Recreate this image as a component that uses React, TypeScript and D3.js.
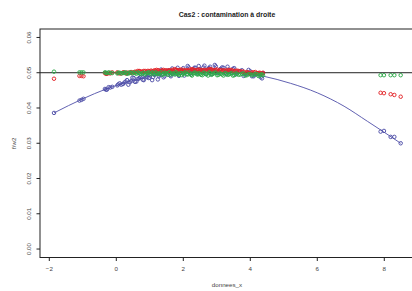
import React, { useEffect, useRef } from 'react';
import * as d3 from 'd3';

// donnees_x : 1 point a gauche, petit groupe vers -1, nuage central, contamination a droite
const donneesX = [
  -1.86, -1.1, -1.04, -0.98,
  -0.34, -0.28, -0.18, 0.03, 0.1, 0.2, 0.28, 0.36, 0.44, 0.52, 0.6, 0.68, 0.75, 0.82, 0.9, 0.97,
  1.04, 1.1, 1.17, 1.24, 1.3, 1.37, 1.44, 1.5, 1.57, 1.63, 1.7, 1.77, 1.83, 1.9, 1.96,
  2.03, 2.1, 2.16, 2.23, 2.3, 2.36, 2.43, 2.5, 2.57, 2.63, 2.7, 2.77, 2.84, 2.9, 2.97,
  3.05, 3.12, 3.2, 3.28, 3.36, 3.44, 3.52, 3.6, 3.7, 3.8, 3.9, 4.0, 4.1, 4.2, 4.28, 4.35,
  -0.31, -0.23, -0.12, 0.06, 0.15, 0.24, 0.32, 0.4, 0.48, 0.56, 0.64, 0.71, 0.79, 0.86, 0.93,
  1.0, 1.07, 1.14, 1.2, 1.27, 1.34, 1.41, 1.47, 1.54, 1.6, 1.67, 1.74, 1.8, 1.87, 1.93,
  2.0, 2.06, 2.13, 2.2, 2.26, 2.33, 2.4, 2.46, 2.53, 2.6, 2.67, 2.74, 2.8, 2.87, 2.94,
  3.01, 3.09, 3.16, 3.24, 3.32, 3.4, 3.48, 3.56, 3.65, 3.75, 3.85, 3.95, 4.05, 4.15, 4.24, 4.31, 4.38,
  7.89, 7.99, 8.19, 8.3, 8.49,
];

const fw2Blue = [
  0.0386, 0.0421, 0.0423, 0.0426,
  0.0454, 0.0452, 0.0458, 0.0464, 0.047, 0.0468, 0.0475, 0.0466, 0.0476, 0.0485, 0.0475, 0.0484, 0.0488, 0.0479, 0.0488, 0.0485,
  0.0502, 0.0488, 0.0497, 0.0481, 0.0494, 0.0505, 0.049, 0.0502, 0.0506, 0.049, 0.0503, 0.0496, 0.0514, 0.05, 0.0508,
  0.0492, 0.0505, 0.0515, 0.0499, 0.051, 0.0514, 0.0498, 0.051, 0.0503, 0.052, 0.0506, 0.0513, 0.0496, 0.0508, 0.0518,
  0.05, 0.0511, 0.0514, 0.0496, 0.0508, 0.05, 0.0513, 0.0501, 0.0505, 0.0491, 0.0498, 0.0504, 0.049, 0.0496, 0.0497, 0.0484,
  0.0452, 0.0459, 0.046, 0.0467, 0.0466, 0.0472, 0.0479, 0.0473, 0.0486, 0.0474, 0.0482, 0.0487, 0.048, 0.0493, 0.0487,
  0.0496, 0.0479, 0.0494, 0.0502, 0.049, 0.0509, 0.0487, 0.0499, 0.0506, 0.0493, 0.0512, 0.05, 0.0508, 0.0491, 0.0506,
  0.0513, 0.0501, 0.0519, 0.0497, 0.0507, 0.0514, 0.0501, 0.0519, 0.0507, 0.0515, 0.0496, 0.0511, 0.0517, 0.0504, 0.0522,
  0.0499, 0.0509, 0.0515, 0.05, 0.0517, 0.0503, 0.0511, 0.0495, 0.0504, 0.0507, 0.0496, 0.0508, 0.049, 0.0495, 0.0498, 0.0487, 0.0499,
  0.0333, 0.0335, 0.0318, 0.0318, 0.03,
];

const fw2Red = [
  0.0483, 0.0491, 0.0491, 0.049,
  0.0499, 0.0497, 0.0498, 0.0501, 0.0498, 0.0501, 0.0498, 0.05, 0.0502, 0.0501, 0.0502, 0.0505, 0.0503, 0.0505, 0.0502, 0.0505,
  0.0506, 0.0504, 0.0505, 0.0507, 0.0504, 0.0507, 0.0504, 0.0506, 0.0507, 0.0505, 0.0506, 0.0508, 0.0505, 0.0507, 0.0504,
  0.0506, 0.0507, 0.0505, 0.0506, 0.0508, 0.0506, 0.0508, 0.0505, 0.0507, 0.0508, 0.0506, 0.0507, 0.0509, 0.0506, 0.0508,
  0.0505, 0.0507, 0.0507, 0.0505, 0.0506, 0.0507, 0.0504, 0.0506, 0.0504, 0.0503, 0.0502, 0.0499, 0.0501, 0.0499, 0.05, 0.0498,
  0.0497, 0.0499, 0.0501, 0.0499, 0.0498, 0.0501, 0.05, 0.0499, 0.05, 0.0503, 0.0505, 0.0504, 0.0503, 0.0505, 0.0505,
  0.0503, 0.0504, 0.0507, 0.0508, 0.0506, 0.0505, 0.0508, 0.0507, 0.0505, 0.0506, 0.0508, 0.051, 0.0508, 0.0507, 0.0509,
  0.0508, 0.0506, 0.0507, 0.0509, 0.051, 0.0508, 0.0507, 0.0509, 0.0508, 0.0506, 0.0507, 0.0509, 0.051, 0.0508, 0.0507,
  0.0509, 0.0507, 0.0505, 0.0506, 0.0508, 0.0508, 0.0506, 0.0505, 0.0505, 0.0503, 0.05, 0.05, 0.0501, 0.0502, 0.0499, 0.0498, 0.05,
  0.0443, 0.0442, 0.0439, 0.0437, 0.0432,
];

const fw2Green = [
  0.0503, 0.0501, 0.0501, 0.0501,
  0.0501, 0.0499, 0.05, 0.0498, 0.05, 0.0499, 0.0501, 0.0498, 0.05, 0.0501, 0.0497, 0.0499, 0.0496, 0.05, 0.0498, 0.0501,
  0.0496, 0.0499, 0.0501, 0.0496, 0.0498, 0.0494, 0.05, 0.0497, 0.0501, 0.0495, 0.0498, 0.0501, 0.0496, 0.0498, 0.0493,
  0.0499, 0.0496, 0.0501, 0.0494, 0.0498, 0.05, 0.0495, 0.0497, 0.0493, 0.0499, 0.0496, 0.0501, 0.0494, 0.0498, 0.05,
  0.0494, 0.0497, 0.0492, 0.0498, 0.0495, 0.0499, 0.0493, 0.0497, 0.0495, 0.0498, 0.0493, 0.0496, 0.0494, 0.0496, 0.0492, 0.0495,
  0.05, 0.0501, 0.0499, 0.05, 0.0498, 0.05, 0.0497, 0.0501, 0.0498, 0.0499, 0.0501, 0.0497, 0.0499, 0.0495, 0.05,
  0.0498, 0.0501, 0.0495, 0.0499, 0.0497, 0.0501, 0.0496, 0.0499, 0.0494, 0.05, 0.0497, 0.0495, 0.05, 0.0494, 0.0499,
  0.0497, 0.0501, 0.0495, 0.0498, 0.0492, 0.05, 0.0496, 0.0499, 0.0494, 0.05, 0.0497, 0.0492, 0.0499, 0.0496, 0.05,
  0.0493, 0.0498, 0.0495, 0.0499, 0.0494, 0.0497, 0.0492, 0.0498, 0.0494, 0.0497, 0.0492, 0.0496, 0.0493, 0.0497, 0.0491, 0.0495, 0.0493,
  0.0493, 0.0493, 0.0493, 0.0493, 0.0493,
];

// courbe ajustee (bleue)
const curveX = [-1.86, -1.0, -0.3, 0.5, 1.2, 2.0, 2.6, 3.2, 3.8, 4.4, 5.2, 6.0, 6.8, 7.5, 8.0, 8.49];
const curveY = [0.0386, 0.0426, 0.0454, 0.0478, 0.0494, 0.0504, 0.0508, 0.0507, 0.05, 0.049, 0.047, 0.0443, 0.0405, 0.0362, 0.0331, 0.03];

const xTicks = [-2, 0, 2, 4, 6, 8];
const yTicks = [0, 0.01, 0.02, 0.03, 0.04, 0.05, 0.06];
const refLine = 0.05;

const BLUE = '#4f4fa8';
const RED = '#e3262a';
const GREEN = '#2eaa4a';

const App = () => {
  const ref = useRef<SVGSVGElement | null>(null);

  useEffect(() => {
    const left = 40, right = 414, top = 29, bottom = 257.5;

    const svg = d3.select(ref.current);
    svg.selectAll('*').remove();

    const x = d3.scaleLinear().domain([-2.278, 8.887]).range([left, right]);
    const y = d3.scaleLinear().domain([-0.0024, 0.0624]).range([bottom, top]);

    const font = 'Liberation Sans, Arial, Helvetica, sans-serif';

    const pts = (vals: number[], color: string) => {
      svg
        .append('g')
        .selectAll('circle')
        .data(donneesX.map((d, i) => [d, vals[i]]))
        .enter()
        .append('circle')
        .attr('cx', (d) => x(d[0]))
        .attr('cy', (d) => y(d[1]))
        .attr('r', 1.75)
        .attr('fill', 'none')
        .attr('stroke', color)
        .attr('stroke-width', 0.95);
    };

    // points bleus + courbe
    pts(fw2Blue, BLUE);

    const line = d3
      .line<number>()
      .x((d) => x(d))
      .y((d, i) => y(curveY[i]))
      .curve(d3.curveMonotoneX);
    svg
      .append('path')
      .attr('d', line(curveX))
      .attr('fill', 'none')
      .attr('stroke', BLUE)
      .attr('stroke-width', 0.9);

    // ligne horizontale
    svg
      .append('line')
      .attr('x1', left)
      .attr('x2', right)
      .attr('y1', y(refLine))
      .attr('y2', y(refLine))
      .attr('stroke', '#222')
      .attr('stroke-width', 1);

    pts(fw2Red, RED);
    pts(fw2Green, GREEN);

    // cadre
    svg
      .append('rect')
      .attr('x', left)
      .attr('y', top)
      .attr('width', right - left)
      .attr('height', bottom - top)
      .attr('fill', 'none')
      .attr('stroke', '#222')
      .attr('stroke-width', 1);

    // axe x
    const gx = svg.append('g');
    gx.selectAll('line')
      .data(xTicks)
      .enter()
      .append('line')
      .attr('x1', (d) => x(d))
      .attr('x2', (d) => x(d))
      .attr('y1', bottom)
      .attr('y2', bottom + 3.5)
      .attr('stroke', '#222');
    gx.selectAll('text')
      .data(xTicks)
      .enter()
      .append('text')
      .attr('x', (d) => x(d))
      .attr('y', 270.5)
      .attr('text-anchor', 'middle')
      .attr('font-family', font)
      .attr('font-size', 6.2)
      .attr('fill', '#444')
      .text((d) => (d < 0 ? '\u2212' + Math.abs(d) : String(d)));

    // axe y
    const gy = svg.append('g');
    gy.selectAll('line')
      .data(yTicks)
      .enter()
      .append('line')
      .attr('x1', left - 3.5)
      .attr('x2', left)
      .attr('y1', (d) => y(d))
      .attr('y2', (d) => y(d))
      .attr('stroke', '#222');
    gy.selectAll('text')
      .data(yTicks)
      .enter()
      .append('text')
      .attr('transform', (d) => `translate(31,${y(d)}) rotate(-90)`)
      .attr('text-anchor', 'middle')
      .attr('font-family', font)
      .attr('font-size', 6.2)
      .attr('fill', '#444')
      .text((d) => d.toFixed(2));

    // titres
    svg
      .append('text')
      .attr('x', (left + right) / 2)
      .attr('y', 16.5)
      .attr('text-anchor', 'middle')
      .attr('font-family', font)
      .attr('font-weight', 'bold')
      .attr('font-size', 6.9)
      .attr('fill', '#222')
      .text('Cas2 : contamination à droite');

    svg
      .append('text')
      .attr('x', (left + right) / 2)
      .attr('y', 287)
      .attr('text-anchor', 'middle')
      .attr('font-family', font)
      .attr('font-size', 6.2)
      .attr('fill', '#444')
      .text('donnees_x');

    svg
      .append('text')
      .attr('transform', `translate(15.5,${(top + bottom) / 2}) rotate(-90)`)
      .attr('text-anchor', 'middle')
      .attr('font-family', font)
      .attr('font-size', 6.2)
      .attr('fill', '#444')
      .text('f/w2');
  }, []);

  return (
    <svg
      ref={ref}
      width={412}
      height={291}
      style={{ position: 'absolute', left: 0, top: 0, background: '#fff' }}
    />
  );
};

export default App;
